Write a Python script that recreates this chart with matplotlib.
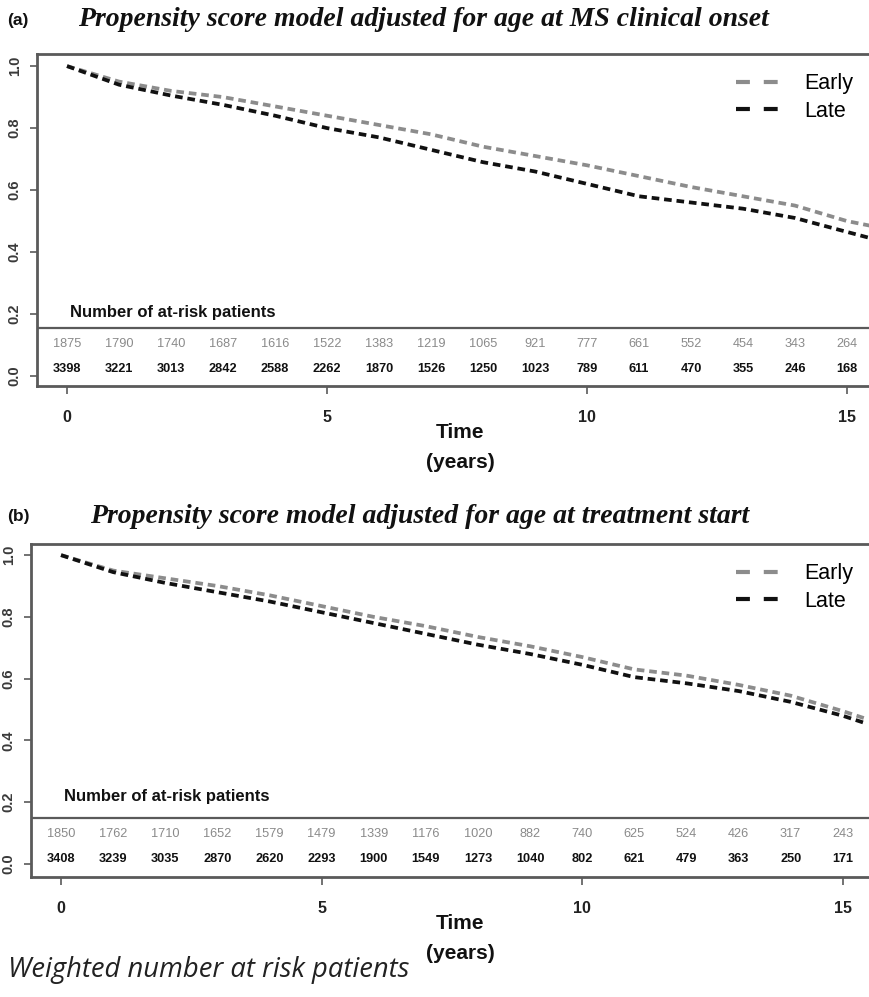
import matplotlib
matplotlib.use("Agg")
import matplotlib.pyplot as plt
from matplotlib.lines import Line2D

plt.rcParams['lines.scale_dashes'] = False

# ---------------- data ----------------
times = [0, 1, 2, 3, 4, 5, 6, 7, 8, 9, 10, 11, 12, 13, 14, 15, 15.45]

a_early = [1.0, 0.95, 0.92, 0.90, 0.87, 0.84, 0.81, 0.78, 0.74, 0.71, 0.68, 0.645, 0.61, 0.58, 0.55, 0.50, 0.485]
a_late = [1.0, 0.94, 0.905, 0.875, 0.84, 0.80, 0.77, 0.73, 0.69, 0.66, 0.62, 0.58, 0.56, 0.54, 0.51, 0.465, 0.445]

b_early = [1.0, 0.95, 0.925, 0.90, 0.87, 0.835, 0.80, 0.77, 0.735, 0.705, 0.67, 0.63, 0.61, 0.58, 0.545, 0.495, 0.47]
b_late = [1.0, 0.945, 0.91, 0.88, 0.85, 0.815, 0.78, 0.745, 0.71, 0.68, 0.645, 0.605, 0.585, 0.56, 0.525, 0.48, 0.455]

risk_times = list(range(16))
a_risk_early = [1875, 1790, 1740, 1687, 1616, 1522, 1383, 1219, 1065, 921, 777, 661, 552, 454, 343, 264]
a_risk_late = [3398, 3221, 3013, 2842, 2588, 2262, 1870, 1526, 1250, 1023, 789, 611, 470, 355, 246, 168]
b_risk_early = [1850, 1762, 1710, 1652, 1579, 1479, 1339, 1176, 1020, 882, 740, 625, 524, 426, 317, 243]
b_risk_late = [3408, 3239, 3035, 2870, 2620, 2293, 1900, 1549, 1273, 1040, 802, 621, 479, 363, 250, 171]

yticks = [0.0, 0.2, 0.4, 0.6, 0.8, 1.0]
ytick_labels = ["0.0", "0.2", "0.4", "0.6", "0.8", "1.0"]
xticks = [0, 5, 10, 15]
xtick_labels = ["0", "5", "10", "15"]

series_labels = ["Early", "Late"]
titles = ["Propensity score model adjusted for age at MS clinical onset",
          "Propensity score model adjusted for age at treatment start"]
panel_tags = ["(a)", "(b)"]
footer = "Weighted number at risk patients"

# ---------------- style ----------------
W, H = 870, 997
EARLY_C = "#8c8c8c"
LATE_C = "#111111"
SPINE_C = "#5a5a5a"
CURVE_DASH = (0, (5.5, 3.5))
LEG_DASH = (0, (10, 10))

fig = plt.figure(figsize=(W / 100, H / 100), dpi=100)
fig.patch.set_facecolor("white")


def fx(px):
    return px / W


def fy(py):
    return 1 - py / H


def panel(rect, xlim, ylim, early, late, r_early, r_late, sep_y, row_e, row_l, hdr_y,
          title, tag, title_y, title_x, tag_x):
    l, t, r, b = rect
    ax = fig.add_axes([fx(l), fy(b), fx(r - l), fy(t) - fy(b)])
    ax.set_xlim(*xlim)
    ax.set_ylim(*ylim)
    ax.plot(times, early, color=EARLY_C, lw=2.7, linestyle=CURVE_DASH)
    ax.plot(times, late, color=LATE_C, lw=2.7, linestyle=CURVE_DASH)

    for s in ax.spines.values():
        s.set_color(SPINE_C)
        s.set_linewidth(2.0)
    ax.spines['right'].set_visible(False)

    ax.set_yticks(yticks)
    ax.set_yticklabels(ytick_labels, rotation=90, va='center', fontsize=10.5,
                       fontweight='bold', color="#3a3a3a", family="Liberation Sans")
    ax.set_xticks(xticks)
    ax.set_xticklabels(xtick_labels, fontsize=11.5, fontweight='bold', color="#222222",
                       family="Liberation Sans")
    ax.tick_params(axis='y', length=5, width=1.2, color=SPINE_C, pad=6)
    ax.tick_params(axis='x', length=6, width=1.2, color=SPINE_C, pad=11)

    ax.axhline(sep_y, color=SPINE_C, lw=1.6)
    ax.text(0.05, hdr_y, "Number of at-risk patients", fontsize=12, fontweight='bold',
            color="#111111", family="Liberation Sans", va='center', ha='left')
    for tt, ne, nl in zip(risk_times, r_early, r_late):
        ax.text(tt, row_e, str(ne), fontsize=9.2, color="#8a8a8a", ha='center', va='center',
                family="Liberation Sans")
        ax.text(tt, row_l, str(nl), fontsize=9.2, color="#111111", ha='center', va='center',
                fontweight='bold', family="Liberation Sans")

    handles = [Line2D([0], [0], color=EARLY_C, lw=3.0, linestyle=LEG_DASH),
               Line2D([0], [0], color=LATE_C, lw=3.0, linestyle=LEG_DASH)]
    ax.legend(handles, series_labels, loc='upper right', bbox_to_anchor=(1.0, 1.0),
              frameon=False, handlelength=2.3, handletextpad=0.9, labelspacing=0.3,
              prop={'family': 'Liberation Sans', 'size': 15.5})

    ax.set_xlabel("Time\n(years)", fontsize=15, fontweight='bold', family="Liberation Sans",
                  color="#111111", linespacing=1.7)
    ax.xaxis.set_label_coords((460 - l) / (r - l), -0.112)

    fig.text(fx(title_x), fy(title_y), title, fontsize=20, fontweight='bold', style='italic',
             family='Liberation Serif', ha='left', va='center', color="#111111")
    fig.text(fx(tag_x), fy(title_y), tag, fontsize=12.5, fontweight='bold',
             family='Liberation Sans', ha='left', va='center', color="#111111")
    return ax


# panel (a): 1.0 at y=66px, 0.0 at 376px ; t=0 at x=67, 52 px/yr
panel((37, 54, 873, 386), (-0.577, 15.5), (-0.032, 1.039), a_early, a_late,
      a_risk_early, a_risk_late, 0.155, 0.103, 0.023, 0.206,
      titles[0], panel_tags[0], 20, 78, 7)

# panel (b): 1.0 at y=555, 0.0 at 864 ; t=0 at x=61
panel((31, 544, 873, 877), (-0.576, 15.58), (-0.042, 1.036), b_early, b_late,
      b_risk_early, b_risk_late, 0.149, 0.097, 0.016, 0.217,
      titles[1], panel_tags[1], 516, 90, 7)

fig.text(fx(8), fy(970), footer, fontsize=19.7, style='italic', family='Open Sans',
         ha='left', va='center', color="#222222")

fig.savefig("out.png", dpi=100)
